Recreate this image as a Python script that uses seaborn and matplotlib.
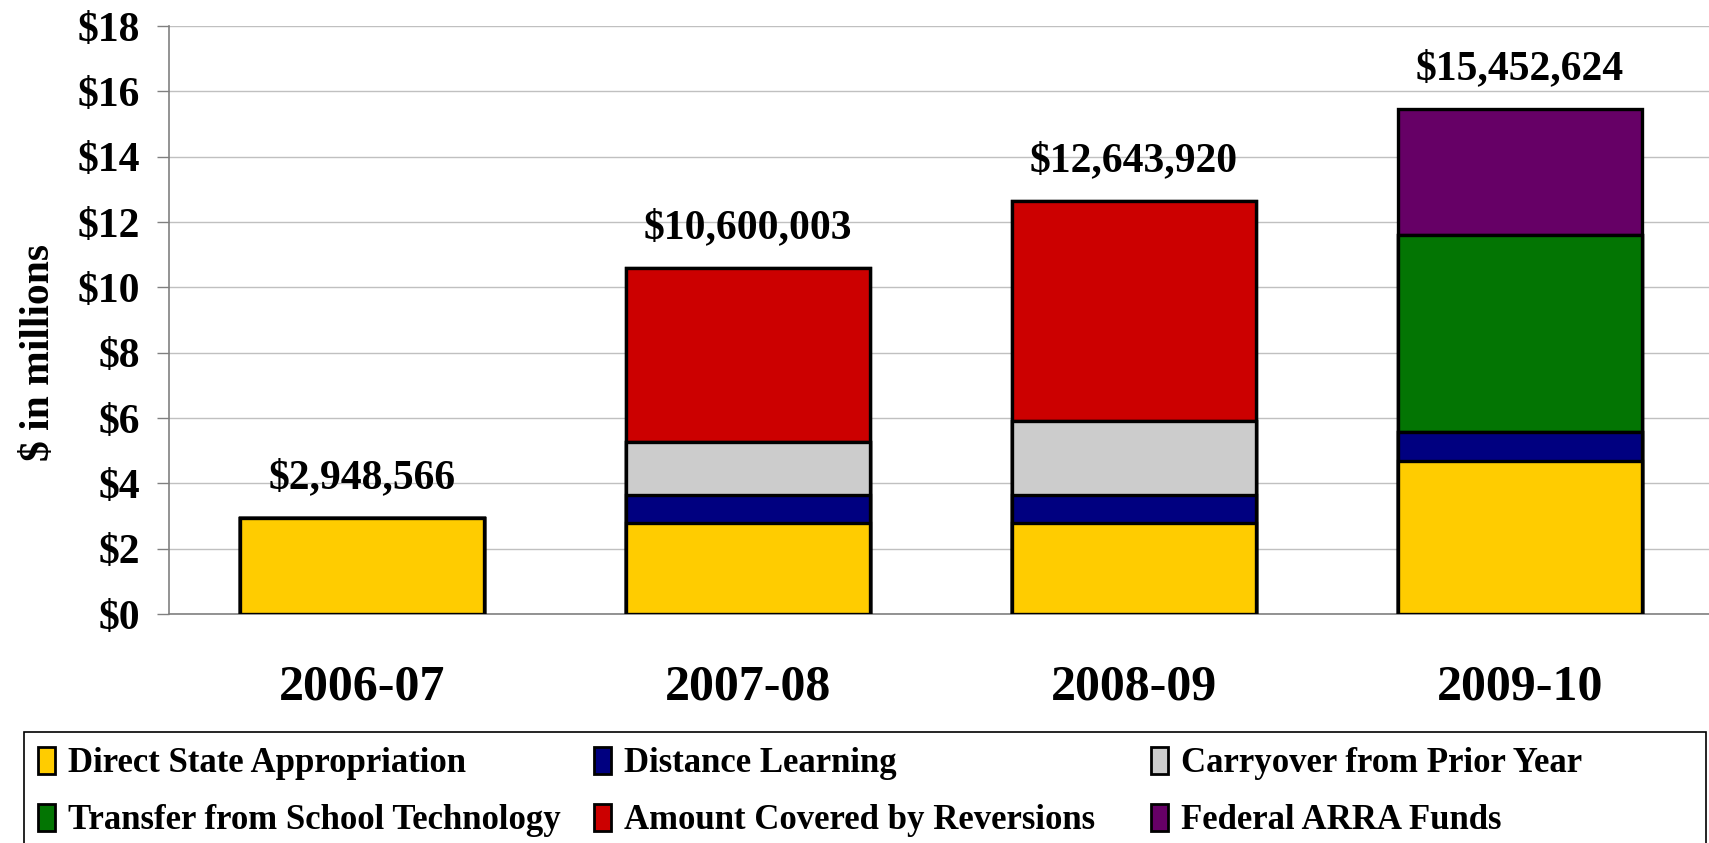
import numpy as np
import pandas as pd
import seaborn as sns
import matplotlib.pyplot as plt
from matplotlib.patches import Patch, Rectangle

# data (in $ millions)
years = ["2006-07", "2007-08", "2008-09", "2009-10"]
direct_state = [2.95, 2.78, 2.78, 4.68]
distance_learning = [0.0, 0.87, 0.87, 0.90]
carryover = [0.0, 1.63, 2.27, 0.0]
transfer_tech = [0.0, 0.0, 0.0, 6.02]
reversions = [0.0, 5.32, 6.72, 0.0]
federal_arra = [0.0, 0.0, 0.0, 3.85]
totals = [2948566, 10600003, 12643920, 15452624]

series_names = ["Direct State Appropriation", "Distance Learning", "Carryover from Prior Year",
                "Transfer from School Technology", "Amount Covered by Reversions", "Federal ARRA Funds"]
series_vals = [direct_state, distance_learning, carryover, transfer_tech, reversions, federal_arra]
colors = ["#FFCC00", "#000080", "#CCCCCC", "#037503", "#CC0000", "#660066"]

sns.set_style("white")
plt.rcParams["font.family"] = ["Liberation Serif", "DejaVu Serif"]
plt.rcParams["font.weight"] = "bold"
plt.rcParams["text.color"] = "black"
plt.rcParams["axes.labelcolor"] = "black"
plt.rcParams["xtick.color"] = "black"
plt.rcParams["ytick.color"] = "black"

fig = plt.figure(figsize=(17.09, 8.43), dpi=100)
ax = fig.add_axes([0.0989, 0.2716, 0.9035, 0.6975])

# stacked bars: draw cumulative totals from the top layer down
cum = np.cumsum(np.array(series_vals), axis=0)
for i in range(len(series_vals) - 1, -1, -1):
    sns.barplot(x=years, y=cum[i], color=colors[i], saturation=1, width=0.63,
                edgecolor="black", linewidth=2.4, errorbar=None, ax=ax, zorder=3)

# total labels
for i, t in enumerate(totals):
    ax.text(i, t / 1e6 + 1.22, f"${t:,}", ha="center", va="center",
            fontsize=30, fontweight="bold")

ax.set_xlim(-0.5, 3.5)
ax.set_ylim(0, 18)
ax.set_yticks(range(0, 19, 2))
ax.set_yticklabels([f"${v}" for v in range(0, 19, 2)], fontsize=30, fontweight="bold")
ax.set_xticks(range(4))
ax.set_xticklabels(years, fontsize=36, fontweight="bold")
ax.set_xticks([-0.5, 0.5, 1.5, 2.5], minor=True)
ax.tick_params(axis="x", which="major", length=0, pad=36)
ax.tick_params(axis="x", which="minor", length=10, width=1, color="#808080", direction="out")
ax.tick_params(axis="y", length=9, width=1, color="#808080", direction="out", pad=12, left=True)
ax.set_ylabel("$ in millions", fontsize=30, fontweight="bold")
ax.yaxis.set_label_coords(-0.072, 0.445)
ax.set_xlabel("")

ax.yaxis.grid(True, color="#C0C0C0", linewidth=1)
ax.set_axisbelow(True)
for s in ["top", "right"]:
    ax.spines[s].set_visible(False)
for s in ["left", "bottom"]:
    ax.spines[s].set_color("#808080")
    ax.spines[s].set_linewidth(1.2)

# legend: frame box plus three columns
W, H = 1709, 843
fig.patches.append(Rectangle((24 / W, -0.05), (1706 - 24) / W, 0.05 + (H - 732) / H,
                             transform=fig.transFigure, fill=False, edgecolor="black",
                             linewidth=1.2))
handles = [Patch(facecolor=c, edgecolor="black", linewidth=2) for c in colors]
col_x = [38, 594, 1151]
for c in range(3):
    idx = [c, c + 3]
    fig.legend([handles[k] for k in idx], [series_names[k] for k in idx],
               loc="upper left", bbox_to_anchor=(col_x[c] / W, (H - 747) / H),
               frameon=False, prop={"size": 25, "weight": "bold"},
               handlelength=0.5, handleheight=0.8, handletextpad=0.35,
               labelspacing=0.68, borderpad=0.0, borderaxespad=0.0)

fig.savefig("out.png", dpi=100)
